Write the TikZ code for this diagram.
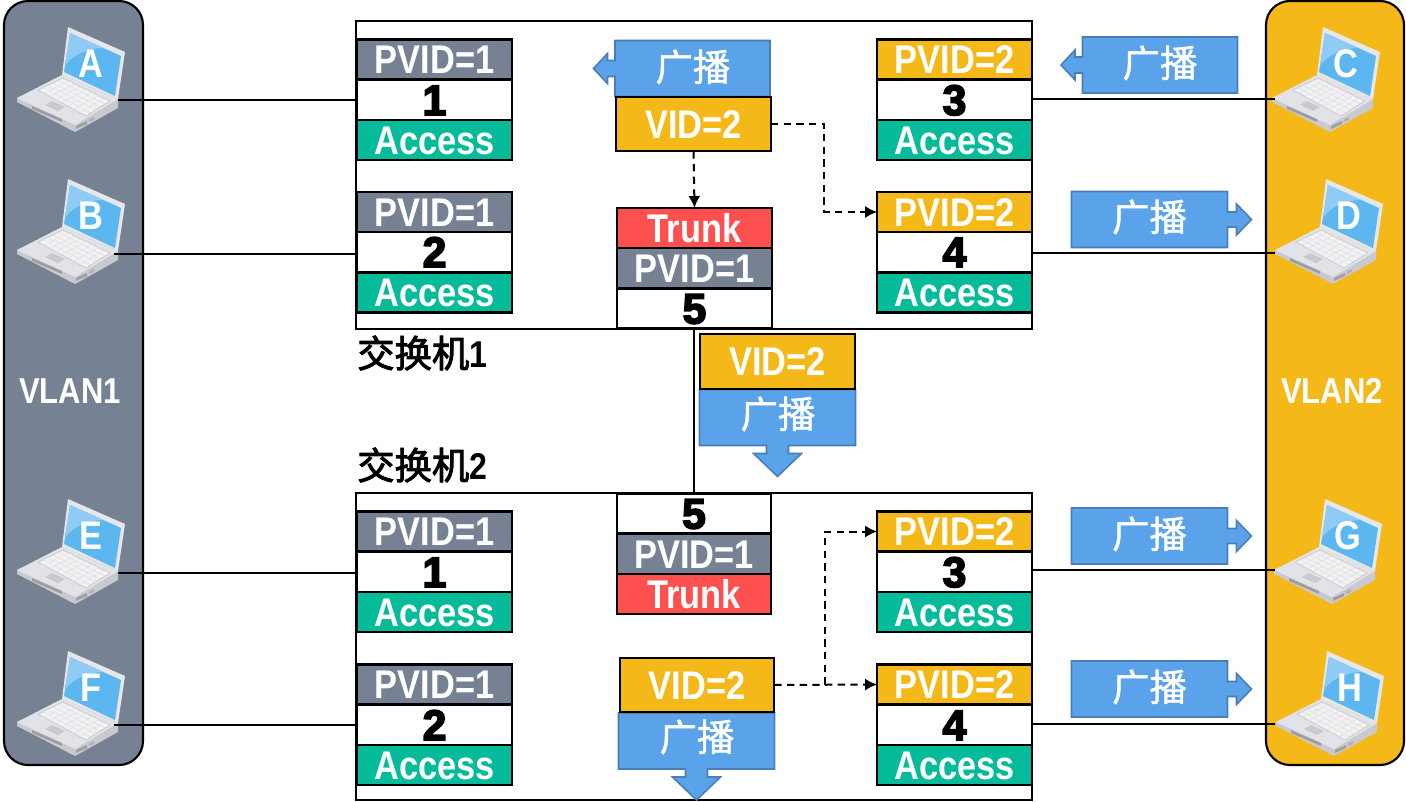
\documentclass[tikz,border=0pt]{standalone}
\usepackage{fontspec}
\usetikzlibrary{calc,arrows.meta}
\setmainfont{Liberation Sans}
\newfontfamily\cellfont{Liberation Sans}[FakeStretch=0.86]
\newfontfamily\numfont{Liberation Sans}[BoldFeatures={FakeBold=4}]
\newfontfamily\cjkfont{Noto Sans CJK SC}[FakeBold=1.2]
\newfontfamily\swfont{Noto Sans CJK SC}[FakeBold=2.5]
\definecolor{vlanone}{RGB}{118,130,148}
\definecolor{vlantwo}{RGB}{244,185,24}
\definecolor{access}{RGB}{5,187,154}
\definecolor{trunk}{RGB}{255,80,80}
\definecolor{bcast}{RGB}{90,162,234}
\definecolor{bcastedge}{RGB}{74,126,181}
\definecolor{lapbody}{RGB}{226,227,232}
\definecolor{lapside}{RGB}{200,202,207}
\definecolor{lapscreen}{RGB}{92,182,240}
\definecolor{lapshine}{RGB}{143,203,245}
\begin{document}
\begin{tikzpicture}[x=0.75pt,y=-0.75pt]
            \tikzset{
                cell/.style={draw=black, line width=1.7pt, minimum width=116pt, minimum height=30pt,
                    inner sep=0pt, outer sep=0pt, text height=21.5pt, text depth=0pt,
                    text=white, font=\cellfont\bfseries\fontsize{30}{30}\selectfont},
                pvidone/.style={cell, fill=vlanone},
                pvidtwo/.style={cell, fill=vlantwo},
                numcell/.style={cell, fill=white, text=black, text height=22.5pt, font=\numfont\bfseries\fontsize{32}{32}\selectfont},
                accesscell/.style={cell, fill=access},
                trunkcell/.style={cell, fill=trunk},
                vidcell/.style={cell, fill=vlantwo, minimum height=41pt},
                panel/.style={draw=black, line width=1.6pt, rounded corners=18pt},
                panellabel/.style={text=white, font=\cellfont\bfseries\fontsize{27}{27}\selectfont},
                swbox/.style={draw=black, line width=1.6pt, fill=white},
                swlabel/.style={anchor=west, inner sep=0pt, font=\fontsize{28}{28}\selectfont},
                link/.style={draw=black, line width=1.6pt},
                flow/.style={draw=black, line width=1.5pt, dash pattern=on 5.5pt off 4pt, -{Latex[length=9pt,width=9pt]}},
                bshape/.style={fill=bcast, draw=bcastedge, line width=1.2pt, line join=miter},
                btext/.style={text=white, inner sep=0pt, font=\cjkfont\fontsize{28}{28}\selectfont},
                lapletter/.style={text=white, inner sep=0pt, font=\cellfont\bfseries\fontsize{30}{30}\selectfont},
                pics/laptop/.style={code={
                    \fill[lapside] (17,98) -- (17,102) -- (75,132) -- (118,108) -- (118,99) -- cycle;
                    \fill[lapbody] (17,98) -- (62,75) -- (118,99) -- (75,125) -- cycle;
                    \fill[lapbody!85!white] (68,27) -- (125,52) -- (118,99) -- (62,75) -- cycle;
                    \fill[lapscreen] (70,33) -- (121,56) -- (115,96) -- (64,72) -- cycle;
                    \fill[lapshine] (70,33) -- (103,48) .. controls (88,48) and (72,55) .. (65,66) -- cycle;
                    \fill[white!95!black, draw=lapside, line width=.6pt] (38,90) -- (63,78) -- (110,101) -- (86,116) -- cycle;
                    \foreach \t in {.2,.4,.6,.8}
                        \draw[lapside!60!white, line width=.4pt] ($(38,90)!\t!(63,78)$) -- ($(86,116)!\t!(110,101)$);
                    \foreach \t in {.125,.25,.375,.5,.625,.75,.875}
                        \draw[lapside!60!white, line width=.4pt] ($(38,90)!\t!(86,116)$) -- ($(63,78)!\t!(110,101)$);
                    \fill[lapside] (45,105) -- (52,101) -- (65,107) -- (58,111) -- cycle;
                    \fill[black!38] (32,106) -- (62,119) -- (62,122) -- (32,109) -- cycle;
                    \fill[black!38] (76,126) -- (87,121) -- (87,124) -- (76,129) -- cycle;
                    \fill[black!30] (89,119) -- (94,117) -- (94,120) -- (89,122) -- cycle;
                    \node[lapletter, text height=21.5pt, text depth=0pt] (-letter) at (91,63) {#1};
                }},
                pics/bcastleft/.style={code={
                    \draw[bshape] (-77.5,-28) -- (77.5,-28) -- (77.5,28) -- (-77.5,28) -- (-77.5,8) -- (-85,8) -- (-85,15)
                        -- (-99,0) -- (-85,-15) -- (-85,-8) -- (-77.5,-8) -- cycle;
                }},
                pics/bcastright/.style={code={
                    \draw[bshape] (-78,-28) -- (78,-28) -- (78,-7.5) -- (87,-7.5) -- (87,-15.5) -- (102,0)
                        -- (87,15.5) -- (87,7.5) -- (78,7.5) -- (78,28) -- (-78,28) -- cycle;
                }},
                pics/bcastdown/.style={code={
                    \draw[bshape] (-78,-28) -- (78,-28) -- (78,28) -- (11,28) -- (11,36) -- (24,36) -- (0,59)
                        -- (-24,36) -- (-11,36) -- (-11,28) -- (-78,28) -- cycle;
                }}
            }
            \useasboundingbox (0,0) rectangle (1406,802);

            % vlan panels
            \draw[panel, fill=vlanone] (4,1) rectangle (143,765);
            \draw[panel, fill=vlantwo] (1266,1) rectangle (1404,765);
            \node[panellabel, text height=21pt, text depth=0pt] (vlan1) at (70,389) {VLAN1};
            \node[panellabel, text height=21pt, text depth=0pt] (vlan2) at (1332,389) {VLAN2};

            % switches
            \node[swbox, minimum width=507pt, minimum height=231pt, inner sep=0pt] (sw1) at (694,175) {};
            \node[swbox, minimum width=507pt, minimum height=230pt, inner sep=0pt] (sw2) at (694,646.5) {};
            \node[swlabel] (sw1name) at (357,353) {\swfont 交换机{\cellfont\bfseries 1}};
            \node[swlabel] (sw2name) at (357,465) {\swfont 交换机{\cellfont\bfseries 2}};

            % switch 1 ports
            \node[pvidone] (s1p1a) at (434.5,59.5) {PVID=1};
            \node[numcell] (s1p1b) at (434.5,100) {1};
            \node[accesscell] (s1p1c) at (434.5,140) {Access};
            \node[pvidone] (s1p2a) at (434.5,212) {PVID=1};
            \node[numcell] (s1p2b) at (434.5,252) {2};
            \node[accesscell] (s1p2c) at (434.5,292.5) {Access};
            \node[pvidtwo] (s1p3a) at (954.5,59.5) {PVID=2};
            \node[numcell] (s1p3b) at (954.5,100) {3};
            \node[accesscell] (s1p3c) at (954.5,140) {Access};
            \node[pvidtwo] (s1p4a) at (954.5,212) {PVID=2};
            \node[numcell] (s1p4b) at (954.5,252) {4};
            \node[accesscell] (s1p4c) at (954.5,292.5) {Access};
            \node[trunkcell] (s1p5a) at (694.5,228) {Trunk};
            \node[pvidone] (s1p5b) at (694.5,268) {PVID=1};
            \node[numcell] (s1p5c) at (694.5,308.5) {5};

            % switch 2 ports
            \node[pvidone] (s2p1a) at (434.5,531.5) {PVID=1};
            \node[numcell] (s2p1b) at (434.5,572) {1};
            \node[accesscell] (s2p1c) at (434.5,612) {Access};
            \node[pvidone] (s2p2a) at (434.5,684.5) {PVID=1};
            \node[numcell] (s2p2b) at (434.5,725) {2};
            \node[accesscell] (s2p2c) at (434.5,765) {Access};
            \node[pvidtwo] (s2p3a) at (954.5,531.5) {PVID=2};
            \node[numcell] (s2p3b) at (954.5,572) {3};
            \node[accesscell] (s2p3c) at (954.5,612) {Access};
            \node[pvidtwo] (s2p4a) at (954.5,684.5) {PVID=2};
            \node[numcell] (s2p4b) at (954.5,725) {4};
            \node[accesscell] (s2p4c) at (954.5,765) {Access};
            \node[numcell] (s2p5a) at (694,513.5) {5};
            \node[pvidone] (s2p5b) at (694,554) {PVID=1};
            \node[trunkcell] (s2p5c) at (694,594) {Trunk};

            % broadcast frames
            \pic at (692.5,68.5) {bcastleft};
            \node[btext] (b1) at (693,67) {广播};
            \node[vidcell] (vid1) at (693.5,124) {VID=2};
            \pic at (1160,65) {bcastleft};
            \node[btext] (b2) at (1160,63) {广播};
            \pic at (1149.5,219.5) {bcastright};
            \node[btext] (b3) at (1149.5,217) {广播};
            \pic at (777.5,417.5) {bcastdown};
            \node[btext] (b4) at (778,414) {广播};
            \node[vidcell] (vid2) at (777.5,361.5) {VID=2};
            \pic at (1149.5,536) {bcastright};
            \node[btext] (b5) at (1149.5,534) {广播};
            \pic at (1149.5,689) {bcastright};
            \node[btext] (b6) at (1149.5,687) {广播};
            \pic at (696.5,741) {bcastdown};
            \node[btext] (b7) at (697,737) {广播};
            \node[vidcell] (vid3) at (697,685) {VID=2};

            % trunk link
            \draw[link] (s2p5a.north |- s1p5c.south) -- (s2p5a.north);

            % access links
            \coordinate (lapAout) at (118,100);
            \coordinate (lapBout) at (114,254);
            \coordinate (lapCout) at (1275,99);
            \coordinate (lapDout) at (1275,253);
            \coordinate (lapEout) at (118,573);
            \coordinate (lapFout) at (114,725);
            \coordinate (lapGout) at (1275,570);
            \coordinate (lapHout) at (1275,724);
            \pic (lapA) at (0,0) {laptop={A}};
            \pic (lapB) at (0,152) {laptop={B}};
            \pic (lapC) at (1255,0) {laptop={C}};
            \pic (lapD) at (1258,152) {laptop={D}};
            \pic (lapE) at (0,472) {laptop={E}};
            \pic (lapF) at (0,624) {laptop={F}};
            \pic (lapG) at (1257,472) {laptop={G}};
            \pic (lapH) at (1259,624) {laptop={H}};
            \draw[link] (lapAout) -- (lapAout -| s1p1b.west);
            \draw[link] (lapBout) -- (lapBout -| s1p2b.west);
            \draw[link] (lapCout) -- (lapCout -| s1p3b.east);
            \draw[link] (lapDout) -- (lapDout -| s1p4b.east);
            \draw[link] (lapEout) -- (lapEout -| s2p1b.west);
            \draw[link] (lapFout) -- (lapFout -| s2p2b.west);
            \draw[link] (lapGout) -- (lapGout -| s2p3b.east);
            \draw[link] (lapHout) -- (lapHout -| s2p4b.east);

            % forwarding
            \coordinate (bendA) at (824,124);
            \coordinate (bendB) at (825,684.5);
            \draw[flow] (vid1.south) -- (s1p5a.north);
            \draw[flow] (vid1.east) -- (bendA) |- (s1p4a.west);
            \draw[flow] (vid3.east) -- (s2p4a.west);
            \draw[flow] (bendB) |- (s2p3a.west);
        \end{tikzpicture}
\end{document}
